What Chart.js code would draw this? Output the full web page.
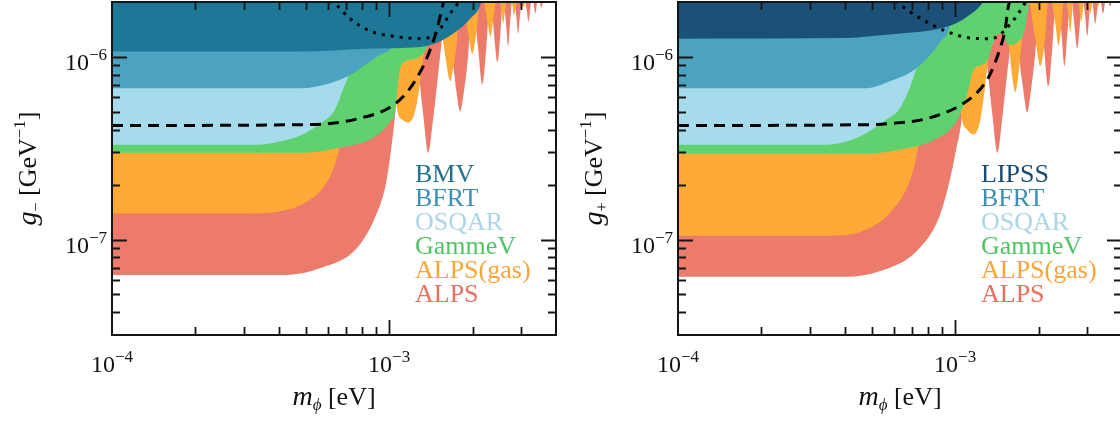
<!DOCTYPE html>
<html>
<head>
<meta charset="utf-8">
<script src="https://cdn.jsdelivr.net/npm/chart.js@4.4.1/dist/chart.umd.min.js"></script>
<style>
  body { margin: 0; background: #fff; overflow: hidden; }
  #wrap { position: relative; width: 1120px; height: 427px; overflow: hidden; }
  canvas { position: absolute; top: 0; }
</style>
</head>
<body>
<div id="wrap">
  <canvas id="gMinus" width="560" height="427" style="left:0"></canvas>
  <canvas id="gPlus" width="566" height="427" style="left:560px"></canvas>
</div>
<script>
// axis ranges and labelled ticks
const massRange = [1e-4, 4e-3];
const couplingRange = [3e-8, 2e-6];
const massTickLabels = [1e-4, 1e-3];
const couplingTickLabels = [1e-7, 1e-6];

// ---- g_- panel : [m_phi (eV), g (GeV^-1)], region excluded above each curve
const bmvMinus = [[1e-4,1.07e-6],[4.8e-4,1.07e-6],[8.3e-4,1.11e-6],[1.1e-3,1.12e-6],[1.37e-3,1.15e-6],[1.53e-3,1.22e-6],[1.76e-3,1.39e-6],[1.96e-3,1.62e-6],[2.13e-3,1.91e-6],[2.24e-3,2.5e-6],[4e-3,2.5e-6]];
const bfrtMinus = [[1e-4,6.74e-7],[4.78e-4,6.74e-7],[6.12e-4,7.18e-7],[7.23e-4,7.96e-7],[8.18e-4,9.03e-7],[9.28e-4,1.03e-6],[1.026e-3,1.14e-6],[1.08e-3,1.43e-6],[1.13e-3,2.5e-6],[4e-3,2.5e-6]];
const osqarMinus = [[1e-4,3.31e-7],[3.42e-4,3.31e-7],[4.04e-4,3.44e-7],[4.78e-4,3.71e-7],[5.64e-4,4.32e-7],[6.38e-4,5.16e-7],[6.82e-4,6.65e-7],[7.23e-4,8.37e-7],[7.54e-4,1.04e-6],[8.0e-4,1.62e-6],[8.4e-4,2.5e-6],[4e-3,2.5e-6]];
const gammevMinus = [[1e-4,2.99e-7],[4.93e-4,2.99e-7],[6.6e-4,3.18e-7],[8.89e-4,3.66e-7],[1.008e-3,4.43e-7],[1.051e-3,5.03e-7],[1.086e-3,8.06e-7],[1.133e-3,9.38e-7],[1.242e-3,9.75e-7],[1.349e-3,1.08e-6],[1.41e-3,1.29e-6],[1.48e-3,1.84e-6],[1.53e-3,2.5e-6],[4e-3,2.5e-6]];
const alpsGasMinus = [[1e-4,1.39e-7],[3.15e-4,1.39e-7],[4.25e-4,1.45e-7],[4.93e-4,1.58e-7],[5.69e-4,1.87e-7],[6.28e-4,2.41e-7],[6.6e-4,3.1e-7],[6.93e-4,4.26e-7],[7.23e-4,6.25e-7],[7.6e-4,1.04e-6],[8.53e-4,2.5e-6],[1.026e-3,1.26e-6],[1.069e-3,5.16e-7],[1.114e-3,4.54e-7],[1.172e-3,4.37e-7],[1.231e-3,4.84e-7],[1.283e-3,6.65e-7],[1.327e-3,9.75e-7],[1.45e-3,2.2e-6],[1.58e-3,1.11e-6],[1.62e-3,8.6e-7],[1.66e-3,7.36e-7],[1.70e-3,8.6e-7],[1.745e-3,1.11e-6],[1.82e-3,2.2e-6],[1.93e-3,1.34e-6],[1.995e-3,1.04e-6],[2.06e-3,1.34e-6],[2.15e-3,2.2e-6],[2.26e-3,1.58e-6],[2.32e-3,1.29e-6],[2.37e-3,1.58e-6],[2.46e-3,2.2e-6],[2.54e-3,1.8e-6],[2.58e-3,1.52e-6],[2.62e-3,1.8e-6],[2.69e-3,2.2e-6],[2.78e-3,1.94e-6],[2.82e-3,1.69e-6],[2.87e-3,1.94e-6],[2.94e-3,2.2e-6],[3.05e-3,1.87e-6],[3.15e-3,2.2e-6],[3.26e-3,1.99e-6],[3.37e-3,2.2e-6],[4e-3,2.5e-6]];
const alpsMinus = [[1e-4,6.4e-8],[4.25e-4,6.4e-8],[5.69e-4,7.0e-8],[7.66e-4,9.0e-8],[8.89e-4,1.32e-7],[9.75e-4,2.04e-7],[1.016e-3,3.1e-7],[1.051e-3,4.84e-7],[1.096e-3,1.04e-6],[1.151e-3,2.5e-6],[1.231e-3,1.43e-6],[1.273e-3,8.9e-7],[1.327e-3,4.84e-7],[1.384e-3,2.99e-7],[1.443e-3,4.66e-7],[1.503e-3,8.06e-7],[1.55e-3,1.26e-6],[1.607e-3,2.2e-6],[1.687e-3,1.04e-6],[1.745e-3,6.65e-7],[1.803e-3,5.03e-7],[1.866e-3,6.65e-7],[1.93e-3,1.04e-6],[1.995e-3,2.2e-6],[2.095e-3,1.11e-6],[2.17e-3,7.09e-7],[2.24e-3,1.11e-6],[2.32e-3,2.2e-6],[2.39e-3,1.34e-6],[2.46e-3,9.38e-7],[2.52e-3,1.34e-6],[2.58e-3,2.2e-6],[2.64e-3,1.52e-6],[2.69e-3,1.135e-6],[2.73e-3,1.52e-6],[2.8e-3,2.2e-6],[2.87e-3,1.73e-6],[2.92e-3,1.34e-6],[2.97e-3,1.73e-6],[3.05e-3,2.2e-6],[3.13e-3,1.84e-6],[3.18e-3,1.56e-6],[3.23e-3,1.84e-6],[3.28e-3,2.2e-6],[3.37e-3,1.73e-6],[3.45e-3,2.2e-6],[3.54e-3,1.87e-6],[3.63e-3,2.2e-6],[3.72e-3,1.98e-6],[3.81e-3,2.2e-6],[4e-3,2.5e-6]];
const dashedMinus = [[1e-4,4.21e-7],[4.93e-4,4.26e-7],[6.12e-4,4.32e-7],[8.05e-4,4.66e-7],[1.008e-3,5.3e-7],[1.16e-3,6.41e-7],[1.294e-3,8.26e-7],[1.41e-3,1.106e-6],[1.49e-3,1.43e-6],[1.55e-3,1.84e-6],[1.58e-3,2.09e-6],[1.6e-3,2.4e-6]];
const dottedMinus = [[5.9e-4,2.25e-6],[6.03e-4,2.09e-6],[6.49e-4,1.91e-6],[7.23e-4,1.62e-6],[8.53e-4,1.39e-6],[1.069e-3,1.29e-6],[1.294e-3,1.26e-6],[1.443e-3,1.31e-6],[1.55e-3,1.47e-6],[1.66e-3,1.73e-6],[1.775e-3,2.01e-6],[1.8e-3,2.2e-6]];

// ---- g_+ panel
const lipssPlus = [[1e-4,1.26e-6],[4.04e-4,1.27e-6],[4.93e-4,1.3e-6],[6.49e-4,1.35e-6],[8.61e-4,1.42e-6],[1.008e-3,1.53e-6],[1.133e-3,1.71e-6],[1.231e-3,1.91e-6],[1.283e-3,2.09e-6],[1.327e-3,2.5e-6],[4e-3,2.5e-6]];
const bfrtPlus = [[1e-4,6.74e-7],[4.78e-4,6.74e-7],[5.82e-4,7.36e-7],[6.93e-4,8.26e-7],[8.0e-4,1.0e-6],[8.89e-4,1.22e-6],[9.51e-4,1.43e-6],[1.008e-3,2.5e-6],[4e-3,2.5e-6]];
const osqarPlus = [[1e-4,3.31e-7],[3.48e-4,3.31e-7],[4.04e-4,3.44e-7],[4.81e-4,3.85e-7],[5.64e-4,4.54e-7],[6.28e-4,5.16e-7],[6.82e-4,6.65e-7],[7.23e-4,8.59e-7],[7.6e-4,1.11e-6],[8.0e-4,1.62e-6],[8.4e-4,2.5e-6],[4e-3,2.5e-6]];
const gammevPlus = [[1e-4,2.95e-7],[4.78e-4,2.95e-7],[6.28e-4,3.1e-7],[8.47e-4,3.53e-7],[1.008e-3,4.37e-7],[1.059e-3,5.16e-7],[1.114e-3,6.49e-7],[1.161e-3,8.37e-7],[1.242e-3,9.03e-7],[1.305e-3,9.5e-7],[1.37e-3,1.18e-6],[1.43e-3,1.34e-6],[1.49e-3,1.34e-6],[1.54e-3,1.18e-6],[1.607e-3,1.165e-6],[1.687e-3,1.21e-6],[1.775e-3,1.375e-6],[1.835e-3,1.84e-6],[1.9e-3,2.5e-6],[4e-3,2.5e-6]];
const alpsGasPlus = [[1e-4,1.05e-7],[3.48e-4,1.05e-7],[4.69e-4,1.12e-7],[5.78e-4,1.39e-7],[6.88e-4,2.12e-7],[7.29e-4,2.99e-7],[7.6e-4,4.54e-7],[7.93e-4,8.59e-7],[8.53e-4,2.5e-6],[1.008e-3,1.26e-6],[1.051e-3,4.84e-7],[1.105e-3,4.0e-7],[1.161e-3,3.76e-7],[1.222e-3,4.26e-7],[1.273e-3,6.25e-7],[1.316e-3,9.75e-7],[1.44e-3,2.2e-6],[1.567e-3,1.11e-6],[1.607e-3,7.76e-7],[1.648e-3,6.41e-7],[1.687e-3,7.76e-7],[1.73e-3,1.11e-6],[1.82e-3,2.2e-6],[1.945e-3,1.26e-6],[2.03e-3,8.92e-7],[2.11e-3,1.26e-6],[2.18e-3,2.2e-6],[2.3e-3,1.52e-6],[2.36e-3,1.15e-6],[2.42e-3,1.52e-6],[2.48e-3,2.2e-6],[2.56e-3,1.73e-6],[2.6e-3,1.375e-6],[2.64e-3,1.73e-6],[2.69e-3,2.2e-6],[2.8e-3,1.89e-6],[2.85e-3,1.56e-6],[2.9e-3,1.89e-6],[2.94e-3,2.2e-6],[3.02e-3,2.0e-6],[3.07e-3,1.73e-6],[3.13e-3,2.0e-6],[3.18e-3,2.2e-6],[3.28e-3,1.89e-6],[3.37e-3,2.2e-6],[3.51e-3,2.01e-6],[3.6e-3,2.2e-6],[4e-3,2.5e-6]];
const alpsPlus = [[1e-4,6.25e-8],[4.04e-4,6.25e-8],[5.41e-4,6.74e-8],[7.29e-4,8.69e-8],[8.75e-4,1.32e-7],[9.51e-4,2.04e-7],[1.008e-3,3.1e-7],[1.059e-3,4.84e-7],[1.096e-3,1.04e-6],[1.16e-3,2.5e-6],[1.262e-3,1.43e-6],[1.305e-3,8.92e-7],[1.362e-3,4.84e-7],[1.42e-3,2.99e-7],[1.48e-3,4.66e-7],[1.54e-3,8.06e-7],[1.592e-3,1.26e-6],[1.648e-3,2.2e-6],[1.7e-3,1.04e-6],[1.76e-3,6.65e-7],[1.82e-3,4.97e-7],[1.879e-3,6.65e-7],[1.945e-3,1.04e-6],[2.03e-3,2.2e-6],[2.095e-3,1.11e-6],[2.17e-3,6.92e-7],[2.24e-3,1.11e-6],[2.32e-3,2.2e-6],[2.42e-3,1.34e-6],[2.48e-3,8.92e-7],[2.54e-3,1.34e-6],[2.62e-3,2.2e-6],[2.69e-3,1.52e-6],[2.76e-3,1.11e-6],[2.82e-3,1.52e-6],[2.87e-3,2.2e-6],[2.94e-3,1.73e-6],[3.0e-3,1.31e-6],[3.05e-3,1.73e-6],[3.1e-3,2.2e-6],[3.15e-3,1.84e-6],[3.2e-3,1.52e-6],[3.26e-3,1.84e-6],[3.31e-3,2.2e-6],[3.42e-3,1.73e-6],[3.51e-3,2.2e-6],[3.63e-3,1.89e-6],[3.72e-3,2.2e-6],[3.81e-3,2.01e-6],[3.91e-3,2.2e-6],[4e-3,2.5e-6]];
const dashedPlus = [[1e-4,4.21e-7],[4.93e-4,4.26e-7],[5.82e-4,4.32e-7],[7.93e-4,4.6e-7],[1.042e-3,5.43e-7],[1.231e-3,6.65e-7],[1.338e-3,8.06e-7],[1.45e-3,1.106e-6],[1.517e-3,1.43e-6],[1.55e-3,1.84e-6],[1.58e-3,2.09e-6],[1.6e-3,2.4e-6]];
const dottedPlus = [[5.9e-4,2.25e-6],[6.03e-4,2.09e-6],[6.33e-4,1.94e-6],[7.34e-4,1.66e-6],[9.36e-4,1.375e-6],[1.133e-3,1.27e-6],[1.294e-3,1.26e-6],[1.42e-3,1.29e-6],[1.528e-3,1.43e-6],[1.66e-3,1.66e-6],[1.775e-3,1.94e-6],[1.835e-3,2.09e-6],[1.86e-3,2.25e-6]];

const legendMinus = ['BMV', 'BFRT', 'OSQAR', 'GammeV', 'ALPS(gas)', 'ALPS'];
const legendPlus = ['LIPSS', 'BFRT', 'OSQAR', 'GammeV', 'ALPS(gas)', 'ALPS'];

const fillColors = {
  BMV: '#1d7797', LIPSS: '#1b5079', BFRT: '#4ca2c1', OSQAR: '#a6dbeb',
  GammeV: '#5fd16e', 'ALPS(gas)': '#fdab36', ALPS: '#ec7b6b'
};
const textColors = {
  BMV: '#23718f', LIPSS: '#1a4a70', BFRT: '#3d8fb3', OSQAR: '#aad6e8',
  GammeV: '#4fc463', 'ALPS(gas)': '#f8a63a', ALPS: '#e8705f'
};

const SERIF = '"Liberation Serif", "DejaVu Serif", serif';
function fnt(size, italic) { return (italic ? 'italic ' : '') + size + 'px ' + SERIF; }

// draw a row of [text, size, italic, dy] pieces
function drawParts(ctx, parts, x, y, align) {
  let w = 0;
  const widths = parts.map(p => { ctx.font = fnt(p[1], p[2]); const m = ctx.measureText(p[0]).width; w += m; return m; });
  let cx = align === 'center' ? x - w / 2 : align === 'right' ? x - w : x;
  ctx.textAlign = 'left';
  ctx.textBaseline = 'alphabetic';
  parts.forEach((p, i) => { ctx.font = fnt(p[1], p[2]); ctx.fillText(p[0], cx, y + (p[3] || 0)); cx += widths[i]; });
}

function logTicks(min, max) {
  const major = [], minor = [];
  for (let e = Math.floor(Math.log10(min)); e <= Math.ceil(Math.log10(max)); e++) {
    for (let k = 1; k <= 9; k++) {
      const v = k * Math.pow(10, e);
      if (v < min * 1.001 || v > max * 0.999) continue;
      (k === 1 ? major : minor).push(v);
    }
  }
  return { major, minor };
}

function powLabel(v) {
  const e = Math.round(Math.log10(v));
  return [['10', 24, false, 0], [(e < 0 ? '\u2212' : '') + Math.abs(e), 17, false, -10]];
}

const panelInfo = {
  gMinus: { sub: '\u2212', names: legendMinus },
  gPlus: { sub: '+', names: legendPlus }
};

const panelPlugin = {
  id: 'panel',
  afterDatasetsDraw(chart) {
    const info = panelInfo[chart.canvas.id];
    const ctx = chart.ctx, a = chart.chartArea;
    const xs = chart.scales.x, ys = chart.scales.y;
    ctx.save();
    ctx.strokeStyle = '#151515';
    ctx.lineWidth = 1.8;
    const xt = logTicks(massRange[0], massRange[1]);
    const yt = logTicks(couplingRange[0], couplingRange[1]);
    ctx.beginPath();
    [[xt.major, 15], [xt.minor, 8]].forEach(([vals, len]) => vals.forEach(v => {
      const px = Math.round(xs.getPixelForValue(v)) + 0.5;
      ctx.moveTo(px, a.bottom); ctx.lineTo(px, a.bottom - len);
      ctx.moveTo(px, a.top); ctx.lineTo(px, a.top + len);
    }));
    [[yt.major, 15], [yt.minor, 8]].forEach(([vals, len]) => vals.forEach(v => {
      const py = Math.round(ys.getPixelForValue(v)) + 0.5;
      ctx.moveTo(a.left, py); ctx.lineTo(a.left + len, py);
      ctx.moveTo(a.right, py); ctx.lineTo(a.right - len, py);
    }));
    ctx.stroke();
    ctx.lineWidth = 2;
    ctx.strokeRect(a.left, a.top, a.right - a.left, a.bottom - a.top);

    ctx.fillStyle = '#111';
    massTickLabels.forEach(v => drawParts(ctx, powLabel(v), xs.getPixelForValue(v), a.bottom + 37, 'center'));
    couplingTickLabels.forEach(v => drawParts(ctx, powLabel(v), a.left - 5, ys.getPixelForValue(v) + 13, 'right'));

    // axis titles
    drawParts(ctx, [['m', 28, true, 0], ['\u03d5', 17, true, 5], [' [eV]', 26, false, 0]], (a.left + a.right) / 2, a.bottom + 70, 'center');
    ctx.save();
    ctx.translate(a.left - 76, (a.top + a.bottom) / 2);
    ctx.rotate(-Math.PI / 2);
    drawParts(ctx, [['g', 28, true, 0], [info.sub, 16, false, 5], [' [GeV', 26, false, 0], ['\u22121', 17, false, -11], [']', 26, false, 0]], 0, 0, 'center');
    ctx.restore();

    // coloured legend text
    info.names.forEach((n, i) => {
      ctx.fillStyle = textColors[n];
      drawParts(ctx, [[n, 26, false, 0]], a.left + 303, a.top + 180 + i * 24, 'left');
    });
    ctx.restore();
  }
};

function pts(arr) { return arr.map(p => ({ x: p[0], y: p[1] })); }
function area(arr, name) {
  return { label: name, data: pts(arr), fill: 'end', backgroundColor: fillColors[name], borderWidth: 0, pointRadius: 0, cubicInterpolationMode: 'monotone' };
}
function curve(arr, dash) {
  return { label: '', data: pts(arr), fill: false, borderColor: '#000', borderWidth: 3, borderDash: dash, pointRadius: 0, cubicInterpolationMode: 'monotone' };
}

function makeChart(id, datasets, leftPad) {
  return new Chart(document.getElementById(id).getContext('2d'), {
    type: 'line',
    data: { datasets: datasets },
    options: {
      responsive: false,
      animation: false,
      devicePixelRatio: 1,
      layout: { padding: { left: leftPad, right: 4, top: 2, bottom: 92 } },
      scales: {
        x: { type: 'logarithmic', min: massRange[0], max: massRange[1], display: false },
        y: { type: 'logarithmic', min: couplingRange[0], max: couplingRange[1], display: false }
      },
      plugins: { legend: { display: false }, tooltip: { enabled: false } }
    },
    plugins: [panelPlugin]
  });
}

// first dataset is drawn on top
makeChart('gMinus', [
  curve(dashedMinus, [11, 7]),
  curve(dottedMinus, [3, 6]),
  area(bmvMinus, 'BMV'),
  area(bfrtMinus, 'BFRT'),
  area(osqarMinus, 'OSQAR'),
  area(gammevMinus, 'GammeV'),
  area(alpsGasMinus, 'ALPS(gas)'),
  area(alpsMinus, 'ALPS')
], 112);

makeChart('gPlus', [
  curve(dashedPlus, [11, 7]),
  curve(dottedPlus, [3, 6]),
  area(lipssPlus, 'LIPSS'),
  area(bfrtPlus, 'BFRT'),
  area(osqarPlus, 'OSQAR'),
  area(gammevPlus, 'GammeV'),
  area(alpsGasPlus, 'ALPS(gas)'),
  area(alpsPlus, 'ALPS')
], 118);
</script>
</body>
</html>
